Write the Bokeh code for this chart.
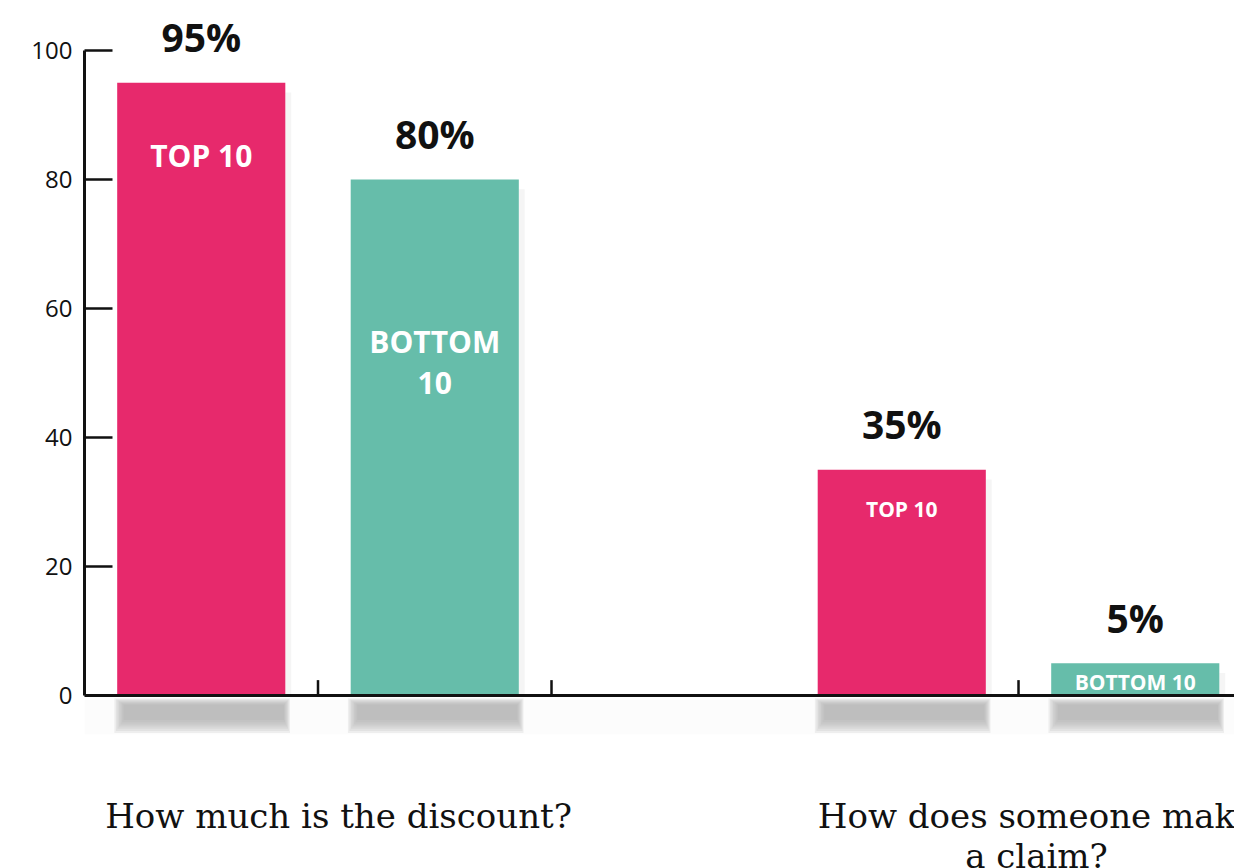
from bokeh.plotting import figure
from bokeh.models import Range1d, FixedTicker, ColumnDataSource
from bokeh.core.properties import value
from bokeh.embed import file_html
from bokeh.resources import INLINE

# ---- data ----
questions = ["How much is the discount?", "How does someone make\na claim?"]
series = ["TOP 10", "BOTTOM 10"]
series_labels = ["TOP 10", "BOTTOM\n10", "TOP 10", "BOTTOM 10"]
top10_values = [95, 35]
bottom10_values = [80, 5]
y_ticks = [0, 20, 40, 60, 80, 100]

PINK = "#E7296C"
TEAL = "#66BDAA"

# slot layout: group g uses slots 3g and 3g+1 (slot 3g+2 is an empty gap)
xs, vals, cols = [], [], []
for g in range(len(questions)):
    for s, arr in enumerate([top10_values, bottom10_values]):
        xs.append(3 * g + s + 0.5)
        vals.append(arr[g])
        cols.append(PINK if s == 0 else TEAL)

W = 0.72
XEND = 4.925
lefts = [x - W / 2 for x in xs]
rights = [x + W / 2 for x in xs]
src = ColumnDataSource(dict(
    x=xs, top=vals, color=cols, left=lefts, right=rights,
    pct=[f"{v}%" for v in vals],
))

p = figure(width=1234, height=868,
           x_range=Range1d(0, XEND), y_range=Range1d(-26.8, 107.75),
           output_backend="svg", toolbar_location=None,
           x_axis_location=None,
           min_border_left=84, min_border_right=0,
           min_border_top=0, min_border_bottom=0)
p.grid.visible = False
p.outline_line_color = None
p.background_fill_color = "white"
p.border_fill_color = "white"

# y axis
ya = p.yaxis[0]
ya.ticker = FixedTicker(ticks=y_ticks)
ya.bounds = (0, 100)
ya.axis_line_width = 3
ya.axis_line_color = "#111111"
ya.major_tick_in = 28
ya.major_tick_out = 0
ya.major_tick_line_width = 2.5
ya.major_tick_line_color = "#111111"
ya.minor_tick_line_color = None
ya.major_label_text_font = "Open Sans"
ya.major_label_text_font_size = "24px"
ya.major_label_text_color = "#111111"
ya.major_label_standoff = 12

# faint band below the axis
p.quad(left=0.0, right=XEND, bottom=-6.0, top=-0.6, color="#f6f6f6", alpha=0.35, line_color=None)
# blurred reflections below bars (many thin translucent layers to fake a blur)
layers = 7
for i in range(layers):
    k = i / (layers - 1)          # 0 = outermost, 1 = innermost
    dl = -0.012 + 0.04 * k
    dr = 0.02 - 0.026 * k
    b = -5.8 + 2.0 * k
    t = -0.4 - 1.0 * k
    p.quad(left=[l + dl for l in lefts], right=[r + dr for r in rights],
           bottom=b, top=t, color="#a8a8a8", alpha=0.16, line_color=None)
# soft right-side shadow on bars
p.quad(left=rights, right=[r + 0.025 for r in rights],
       bottom=0, top=[v - 1.5 for v in vals], color="#ececec", alpha=0.5, line_color=None)

# bars
p.quad(left="left", right="right", bottom=0, top="top", color="color",
       line_color=None, source=src)

# x axis line and ticks
p.segment(x0=0, y0=0, x1=XEND, y1=0, line_color="#111111", line_width=3)
tick_x = [1, 2, 4]
p.segment(x0=tick_x, y0=[0] * 3, x1=tick_x, y1=[2.4] * 3,
          line_color="#111111", line_width=2.5)

# value labels
p.text(x="x", y="top", text="pct", source=src, text_align="center",
       text_baseline="middle", y_offset=-46,
       text_font=value("Open Sans"), text_font_style="bold",
       text_font_size="39px", text_color="#111111")

# inner series labels
inner_y = [83.8, 51.7, 29.0, 2.1]
inner_sizes = ["30px", "30px", "21px", "21px"]
p.text(x=xs, y=inner_y, text=series_labels, text_align="center",
       text_baseline="middle", text_font=value("Open Sans"),
       text_font_style="bold", text_font_size=inner_sizes,
       text_color="white", text_line_height=1.0)

# category labels
p.text(x=[1.088, 4.077], y=[-15.6, -15.6], text=questions, text_align="center",
       text_baseline="top", text_font=value("DejaVu Serif"),
       text_font_size="34px", text_color="#111111", text_line_height=1.0)

open("out.html", "w").write(file_html(p, INLINE))
